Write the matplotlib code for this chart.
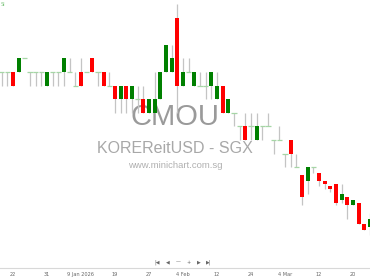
import numpy as np
import matplotlib
matplotlib.use('Agg')
import matplotlib.pyplot as plt

# trading days, Dec 18 2025 .. Mar 25 2026
dates = ['Dec 18', 'Dec 19', 'Dec 22', 'Dec 23', 'Dec 24', 'Dec 26', 'Dec 29', 'Dec 30', 'Dec 31',
         'Jan 2', 'Jan 5', 'Jan 6', 'Jan 7', 'Jan 8', 'Jan 9', 'Jan 12', 'Jan 13', 'Jan 14',
         'Jan 15', 'Jan 16', 'Jan 19', 'Jan 20', 'Jan 21', 'Jan 22', 'Jan 23', 'Jan 26', 'Jan 27',
         'Jan 28', 'Jan 29', 'Jan 30', 'Feb 2', 'Feb 3', 'Feb 4', 'Feb 5', 'Feb 6', 'Feb 9',
         'Feb 10', 'Feb 11', 'Feb 12', 'Feb 13', 'Feb 16', 'Feb 19', 'Feb 20', 'Feb 23', 'Feb 24',
         'Feb 25', 'Feb 26', 'Feb 27', 'Mar 2', 'Mar 3', 'Mar 4', 'Mar 5', 'Mar 6', 'Mar 9',
         'Mar 10', 'Mar 11', 'Mar 12', 'Mar 13', 'Mar 16', 'Mar 17', 'Mar 18', 'Mar 19', 'Mar 20',
         'Mar 23', 'Mar 24', 'Mar 25']

opens = [.235, .235, .235, .235, .240, .235, .235, .235, .230, .235, .235, .235, .235, .230, .235,
         .235, .240, .235, .235, .230, .230, .225, .230, .225, .225, .225, .220, .220, .225, .235,
         .235, .255, .230, .235, .230, .230, .230, .230, .225, .230, .220, .220, .215, .215, .215,
         .210, .215, .215, .210, .210, .205, .210, .200, .197, .195, .200, .198, .195, .193, .194,
         .188, .189, .186, .187, .179, .178]
highs = [.235, .235, .235, .240, .240, .235, .235, .235, .235, .235, .235, .240, .240, .235, .240,
         .235, .240, .235, .235, .235, .230, .230, .230, .230, .230, .230, .225, .235, .235, .245,
         .245, .260, .240, .240, .235, .235, .235, .235, .235, .230, .225, .220, .215, .220, .220,
         .220, .215, .220, .210, .215, .205, .210, .205, .197, .200, .200, .198, .195, .193, .194,
         .194, .189, .188, .187, .179, .183]
lows = [.230, .230, .230, .235, .240, .230, .230, .230, .230, .230, .230, .230, .235, .230, .230,
        .235, .235, .230, .230, .230, .220, .220, .220, .220, .220, .220, .220, .220, .225, .235,
        .235, .220, .230, .235, .230, .230, .225, .225, .225, .220, .220, .215, .210, .210, .210,
        .210, .210, .215, .205, .210, .200, .200, .200, .186, .190, .198, .193, .192, .191, .186,
        .187, .181, .186, .179, .177, .175]
closes = [.235, .235, .230, .240, .240, .235, .235, .235, .235, .235, .235, .240, .235, .230, .230,
          .235, .235, .235, .230, .230, .225, .230, .225, .230, .225, .220, .225, .225, .235, .245,
          .240, .230, .235, .235, .235, .230, .230, .235, .230, .220, .225, .220, .215, .210, .215,
          .215, .215, .215, .210, .210, .205, .205, .200, .189, .200, .200, .195, .194, .192, .187,
          .190, .186, .188, .179, .177, .181]

tick_dates = ['Dec 22', 'Dec 31', 'Jan 9', 'Jan 19', 'Jan 27', 'Feb 4', 'Feb 12', 'Feb 24',
              'Mar 4', 'Mar 12', 'Mar 20']
tick_labels = ['22', '31', '9 Jan 2026', '19', '27', '4 Feb', '12', '24', '4 Mar', '12', '20']

o = np.array(opens)
h = np.array(highs)
l = np.array(lows)
c = np.array(closes)
x = np.arange(len(dates))

fig = plt.figure(figsize=(3.70, 2.78), dpi=100)
ax = fig.add_axes([0, 10 / 278, 1, 268 / 278])

# watermark
ax.text(0.473, 0.563, 'CMOU', transform=ax.transAxes, ha='center', va='center',
        fontsize=21, family='Liberation Sans', color='#9a9a9a', zorder=0)
ax.text(0.473, 0.447, 'KOREReitUSD - SGX', transform=ax.transAxes, ha='center', va='center',
        fontsize=11.5, family='Liberation Sans', color='#a8a8a8', zorder=0)
ax.text(0.473, 0.383, 'www.minichart.com.sg', transform=ax.transAxes, ha='center', va='center',
        fontsize=6.8, family='Liberation Sans', color='#b0b0b0', zorder=0)

up = c > o
down = c < o
flat = c == o

ax.vlines(x, l, h, color='#c4c4c4', lw=0.9, zorder=1)
ax.bar(x[up], c[up] - o[up], bottom=o[up], width=0.7, color='#008000', zorder=2)
ax.bar(x[down], o[down] - c[down], bottom=c[down], width=0.7, color='#ff0000', zorder=2)
ax.hlines(c[flat], x[flat] - 0.45, x[flat] + 0.45, color='#a6d6a6', lw=0.9, zorder=2)

ax.set_xlim(-0.294, 65.0)
ax.set_ylim(0.16294, 0.26147)

ax.set_xticks([dates.index(d) for d in tick_dates])
ax.set_xticklabels(tick_labels)
ax.tick_params(axis='x', length=0, labelsize=3.6, labelcolor='#666666', pad=3)
ax.set_yticks([])
for s in ['top', 'left', 'right']:
    ax.spines[s].set_visible(False)
ax.spines['bottom'].set_color('#d8d8d8')
ax.spines['bottom'].set_linewidth(0.8)

# navigation buttons
for bx, sym in zip([157, 168, 178, 189, 199, 209], ['|◀', '◀', '—', '+', '▶', '▶|']):
    fig.text(bx / 370, 1 - 262 / 278, sym, ha='center', va='center', fontsize=3.5, color='#666666')

fig.text(1 / 370, 1 - 5 / 278, 'SI', ha='left', va='center', fontsize=3.5, color='#7cc47c')

fig.savefig('out.png', dpi=100)
